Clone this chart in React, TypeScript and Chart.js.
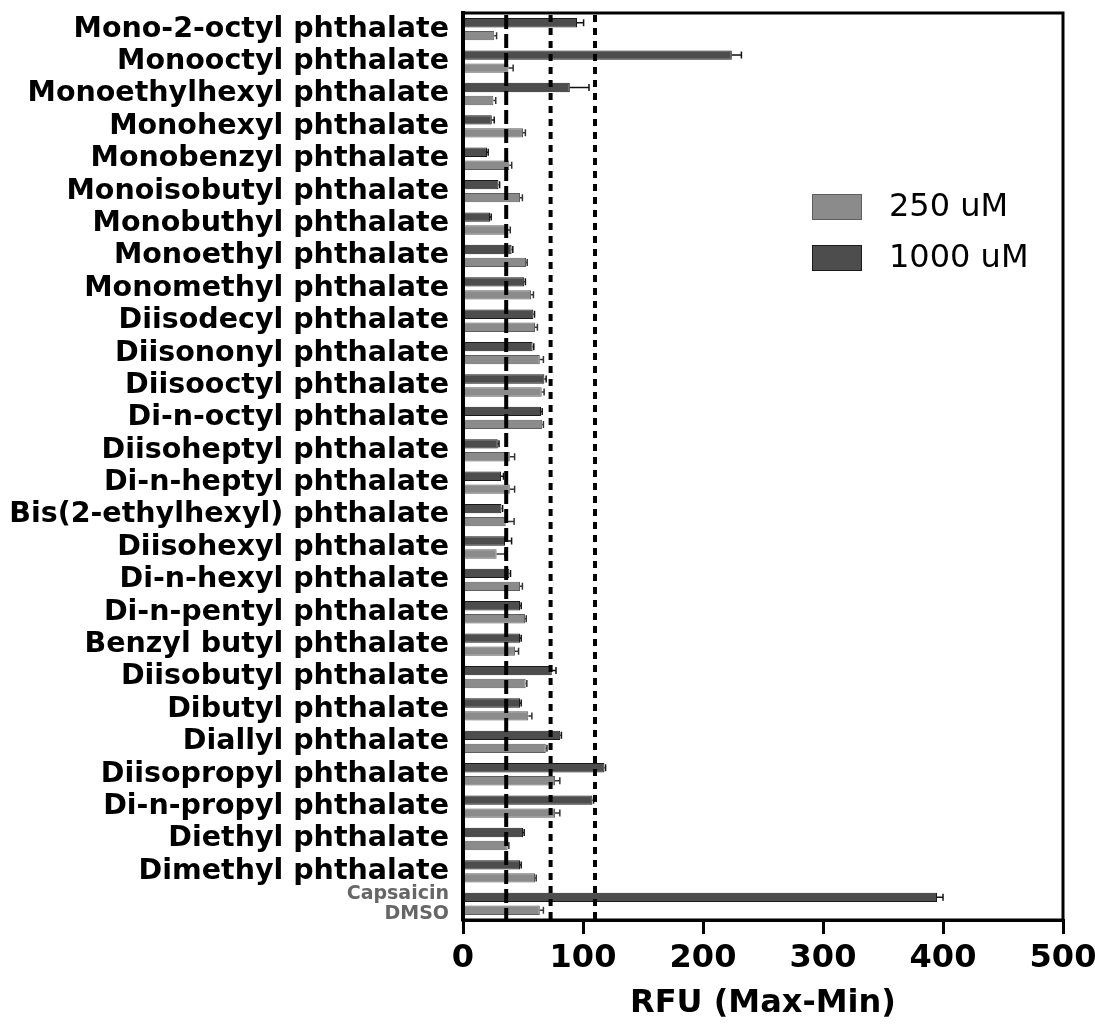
import React, { useEffect, useRef } from 'react';
import { Chart, registerables } from 'chart.js';
Chart.register(...registerables);

const categories: (string | string[])[] = [
  'Mono-2-octyl phthalate', 'Monooctyl phthalate', 'Monoethylhexyl phthalate', 'Monohexyl phthalate',
  'Monobenzyl phthalate', 'Monoisobutyl phthalate', 'Monobuthyl phthalate', 'Monoethyl phthalate',
  'Monomethyl phthalate', 'Diisodecyl phthalate', 'Diisononyl phthalate', 'Diisooctyl phthalate',
  'Di-n-octyl phthalate', 'Diisoheptyl phthalate', 'Di-n-heptyl phthalate', 'Bis(2-ethylhexyl) phthalate',
  'Diisohexyl phthalate', 'Di-n-hexyl phthalate', 'Di-n-pentyl phthalate', 'Benzyl butyl phthalate',
  'Diisobutyl phthalate', 'Dibutyl phthalate', 'Diallyl phthalate', 'Diisopropyl phthalate',
  'Di-n-propyl phthalate', 'Diethyl phthalate', 'Dimethyl phthalate', ['Capsaicin', 'DMSO'],
];

const values1000 = [95, 224, 89, 24, 20, 29.5, 22.5, 40.5, 51, 58.6, 58, 67.8, 65, 29, 31.7, 32, 35, 38.6, 47.5, 47.5, 74, 47.5, 81, 117.8, 107.8, 50, 47.5, 395];
const err1000 = [5.5, 8, 16, 2, 1, 1, 1, 1, 1, 1, 1, 1.5, 1, 1, 2, 1, 5.5, 1, 1, 1, 3.5, 1, 1, 1, 1, 1, 1, 5];
const values250 = [26, 37.8, 25.3, 50, 38.6, 47.5, 36.4, 52.5, 56.7, 60, 64, 65.6, 66, 39, 39, 35.6, 28, 47.5, 51.7, 43.3, 52.2, 54.4, 69, 76.7, 76.7, 37.2, 60, 64];
const err250 = [2, 4, 2, 2, 2, 2, 3, 1, 2, 2, 3, 2, 1, 4, 4, 7, 7, 2, 1, 3, 1, 3, 1, 4, 4, 1, 1, 3];

const thresholdLines = [36, 73, 110];
const xTicks = [0, 100, 200, 300, 400, 500];

const FAMILY = '"DejaVu Sans", "Liberation Sans", Arial, sans-serif';
const DARK = '#4d4d4d';
const LIGHT = '#8b8b8b';

export default function App() {
  const ref = useRef<HTMLCanvasElement | null>(null);

  useEffect(() => {
    document.body.style.margin = '0';
    const canvas = ref.current;
    if (!canvas) return;
    const last = categories.length - 1;

    const errorBars = {
      id: 'errorBars',
      afterDatasetsDraw(chart: any) {
        const ctx = chart.ctx;
        const xs = chart.scales.x;
        const errs = [err1000, err250];
        ctx.save();
        chart.data.datasets.forEach((ds: any, di: number) => {
          const meta = chart.getDatasetMeta(di);
          meta.data.forEach((el: any, i: number) => {
            const v = ds.data[i];
            const e = errs[di][i];
            if (!e) return;
            const x0 = xs.getPixelForValue(v);
            const x1 = xs.getPixelForValue(v + e);
            const y = el.y;
            ctx.strokeStyle = di === 0 ? '#111' : '#333';
            ctx.lineWidth = 1.5;
            ctx.beginPath();
            ctx.moveTo(x0, y);
            ctx.lineTo(x1, y);
            ctx.moveTo(x1, y - 3.5);
            ctx.lineTo(x1, y + 3.5);
            ctx.stroke();
          });
        });
        ctx.restore();
      },
    };

    const dashed = {
      id: 'dashed',
      afterDatasetsDraw(chart: any) {
        const ctx = chart.ctx;
        const { top, bottom } = chart.chartArea;
        const xs = chart.scales.x;
        ctx.save();
        ctx.strokeStyle = '#000';
        ctx.lineWidth = 4;
        thresholdLines.forEach((v, i) => {
          const x = xs.getPixelForValue(v);
          ctx.setLineDash(i === 0 ? [14, 5] : [7, 6]);
          ctx.beginPath();
          ctx.moveTo(x, top + 2);
          ctx.lineTo(x, bottom);
          ctx.stroke();
        });
        ctx.restore();
      },
    };

    const box = {
      id: 'box',
      afterDraw(chart: any) {
        const ctx = chart.ctx;
        const { left, right, top, bottom } = chart.chartArea;
        ctx.save();
        ctx.strokeStyle = '#000';
        ctx.lineWidth = 3;
        ctx.beginPath();
        ctx.moveTo(left, top);
        ctx.lineTo(right, top);
        ctx.lineTo(right, bottom);
        ctx.lineTo(left, bottom);
        ctx.stroke();
        ctx.lineWidth = 4;
        ctx.beginPath();
        ctx.moveTo(left, top - 1.5);
        ctx.lineTo(left, bottom + 1.5);
        ctx.stroke();
        ctx.restore();
      },
    };

    const legend = {
      id: 'customLegend',
      afterDraw(chart: any) {
        const ctx = chart.ctx;
        const order = [1, 0];
        ctx.save();
        ctx.font = `32px ${FAMILY}`;
        ctx.textBaseline = 'middle';
        ctx.textAlign = 'left';
        order.forEach((di, k) => {
          const ds = chart.data.datasets[di];
          const y = 194 + k * 51;
          ctx.fillStyle = ds.backgroundColor;
          ctx.fillRect(812, y, 50, 26);
          ctx.strokeStyle = ds.borderColor;
          ctx.lineWidth = 1;
          ctx.strokeRect(812.5, y + 0.5, 49, 25);
          ctx.fillStyle = '#000';
          ctx.fillText(ds.label, 889, y + 14);
        });
        ctx.restore();
      },
    };

    const chart = new Chart(canvas, {
      type: 'bar',
      data: {
        labels: categories as any,
        datasets: [
          {
            label: '1000 uM',
            data: values1000,
            backgroundColor: DARK,
            borderColor: '#1a1a1a',
            borderWidth: 1,
            categoryPercentage: 0.8,
            barPercentage: 0.72,
          },
          {
            label: '250 uM',
            data: values250,
            backgroundColor: LIGHT,
            borderColor: '#5e5e5e',
            borderWidth: 1,
            categoryPercentage: 0.8,
            barPercentage: 0.72,
          },
        ],
      },
      options: {
        indexAxis: 'y',
        responsive: false,
        animation: false,
        devicePixelRatio: 1,
        layout: { padding: { top: 13, right: 32, left: 0, bottom: 0 } },
        plugins: {
          legend: { display: false },
          tooltip: { enabled: false },
        },
        scales: {
          x: {
            type: 'linear',
            min: 0,
            max: 500,
            afterBuildTicks: (axis: any) => {
              axis.ticks = xTicks.map((v) => ({ value: v }));
            },
            afterFit: (axis: any) => {
              axis.height = 108;
              axis.paddingLeft = 0;
              axis.paddingRight = 0;
            },
            grid: {
              drawOnChartArea: false,
              drawTicks: true,
              tickLength: 14,
              lineWidth: 3,
              color: '#000',
            },
            border: { display: true, color: '#000', width: 3 },
            ticks: {
              color: '#000',
              padding: 5,
              maxRotation: 0,
              font: { family: FAMILY, size: 32, weight: 'bold' },
            },
            title: {
              display: true,
              text: 'RFU (Max-Min)',
              color: '#000',
              font: { family: FAMILY, size: 32, weight: 'bold' },
              padding: { top: 0, bottom: 5 },
            },
          },
          y: {
            type: 'category',
            offset: true,
            afterFit: (axis: any) => {
              axis.width = 463;
              axis.paddingTop = 0;
              axis.paddingBottom = 0;
            },
            grid: { display: false, drawTicks: false },
            border: { display: true, color: '#000', width: 4 },
            ticks: {
              autoSkip: false,
              padding: 14,
              color: (c: any) => (c.index === last ? '#666' : '#000'),
              font: (c: any) =>
                c.index === last
                  ? { family: FAMILY, size: 19, weight: 'bold', lineHeight: 1.05 }
                  : { family: FAMILY, size: 28.5, weight: 'bold', lineHeight: 1.2 },
            },
          },
        },
      } as any,
      plugins: [errorBars, dashed, box, legend],
    });

    return () => chart.destroy();
  }, []);

  return (
    <div style={{ width: 1095, height: 1028, background: '#fff' }}>
      <canvas ref={ref} width={1095} height={1028} style={{ display: 'block' }} />
    </div>
  );
}
